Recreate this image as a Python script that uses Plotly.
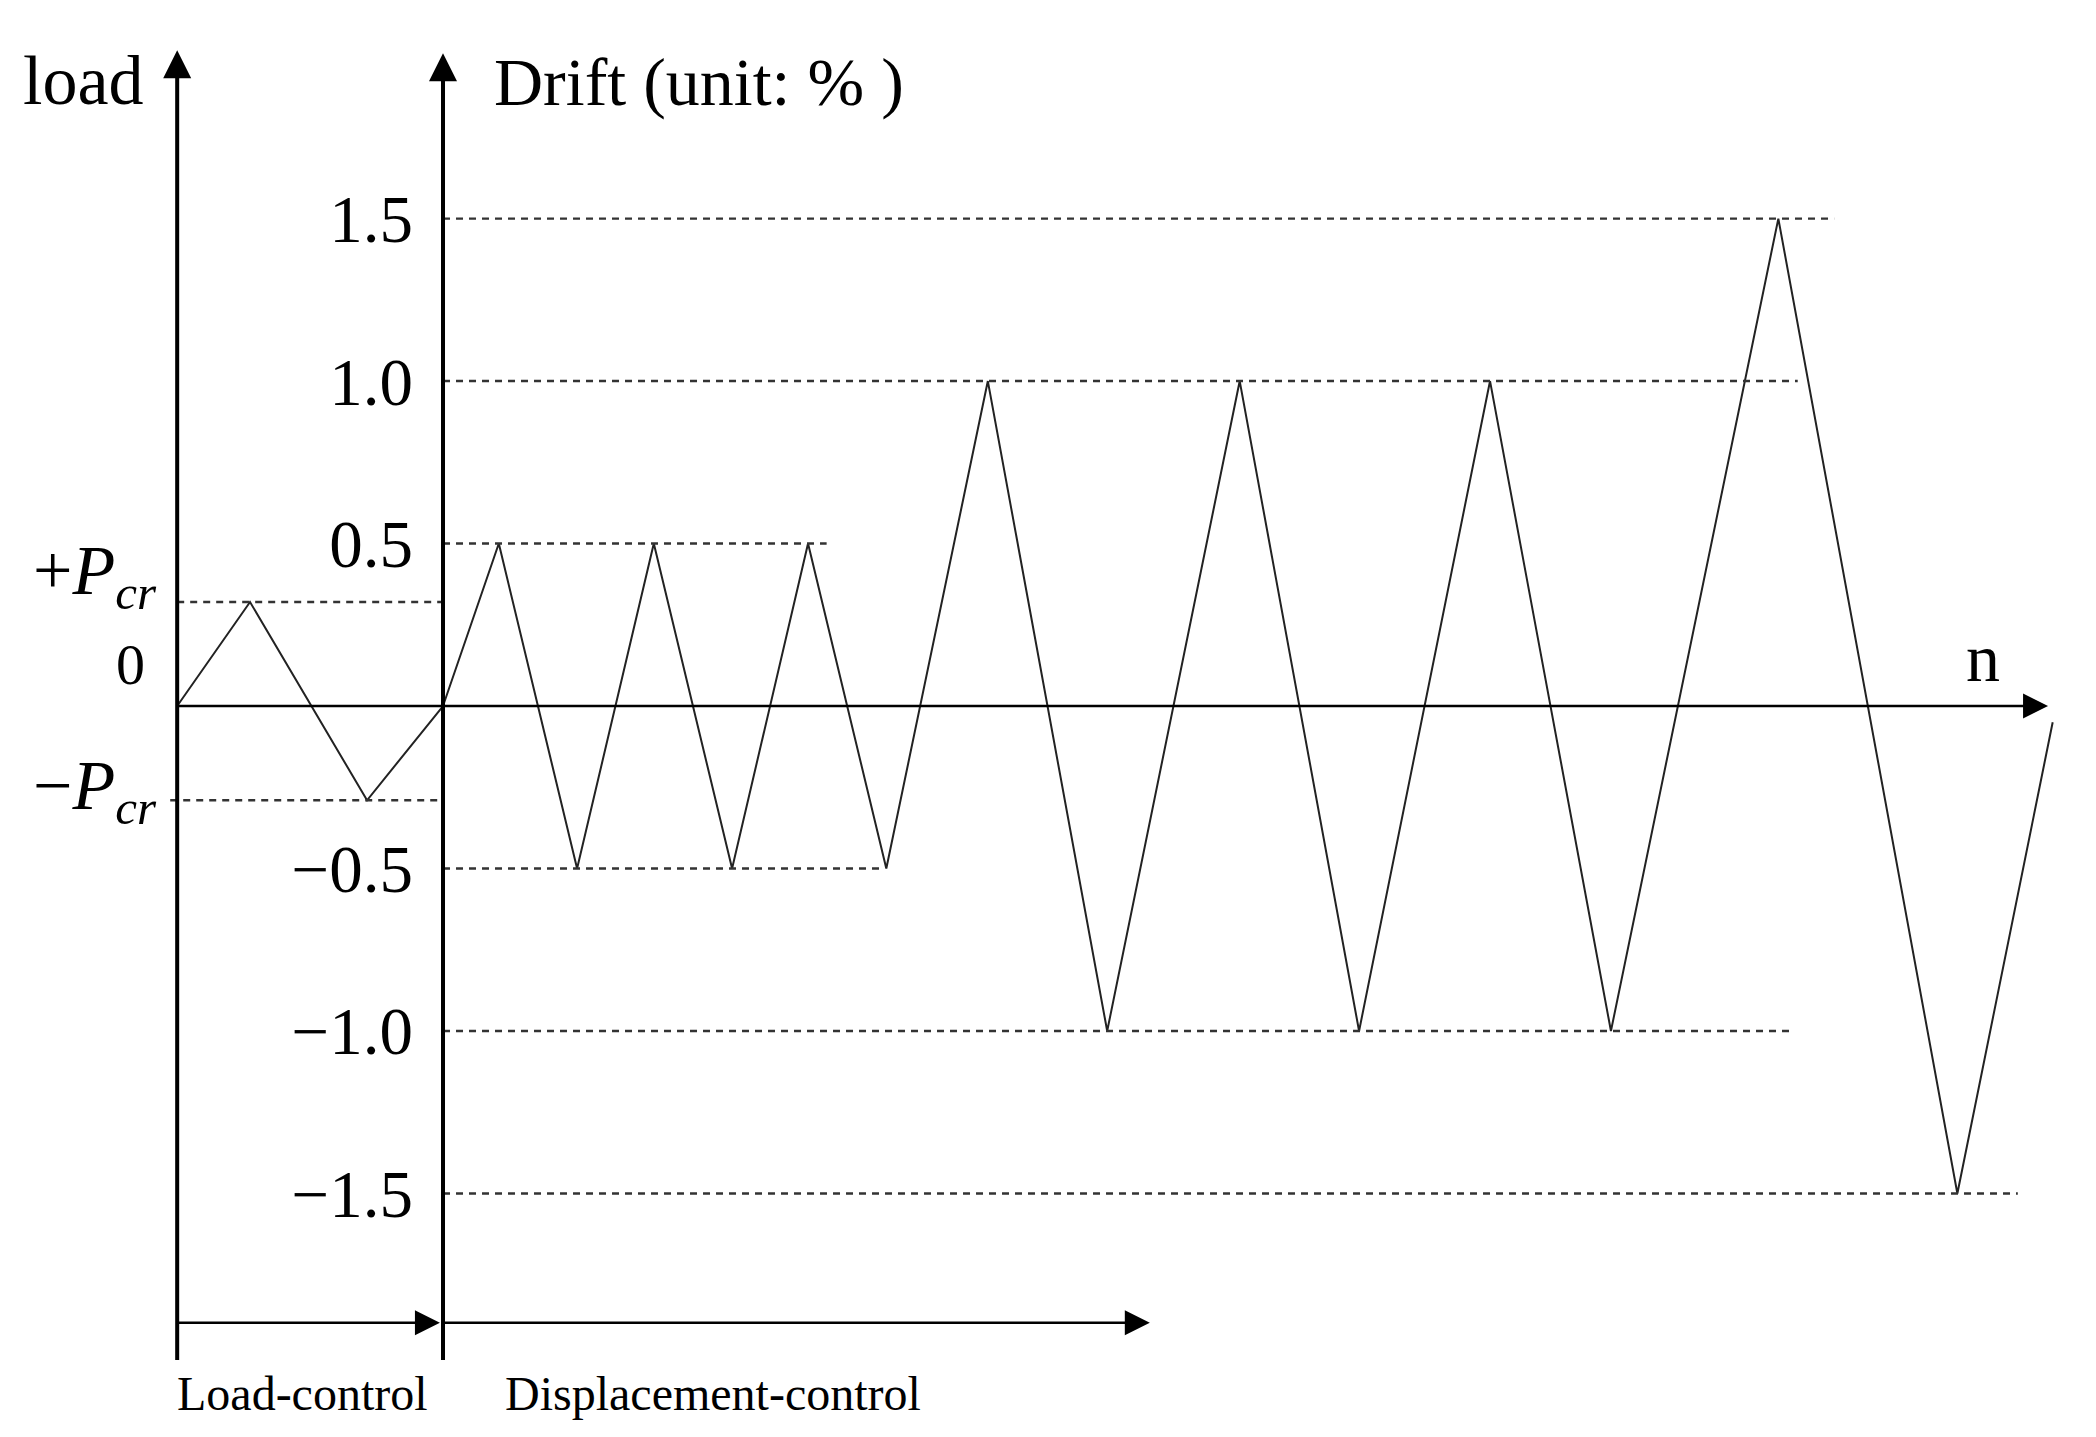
import plotly.graph_objects as go

# loading protocol
# x is in half-cycle units of the 0.5 % stage, drift axis at x = 0
load_x = [-3.43, -2.49, -0.98, 0.0]
load_y = [0.0, 0.32, -0.29, 0.0]          # +Pcr / -Pcr (drawn on the drift scale)

drift_x = [0.0, 0.72, 1.73, 2.72, 3.73, 4.71, 5.72, 7.03, 8.57,
           10.28, 11.82, 13.51, 15.07, 17.23, 19.54, 20.77]
drift_y = [0.0, 0.5, -0.5, 0.5, -0.5, 0.5, -0.5, 1.0, -1.0,
           1.0, -1.0, 1.0, -1.0, 1.5, -1.5, -0.05]

drift_levels = [1.5, 1.0, 0.5, -0.5, -1.0, -1.5]
drift_level_ends = [17.95, 17.48, 4.95, 5.70, 17.39, 20.32]
drift_ticks = ["1.5", "1.0", "0.5", "\u22120.5", "\u22121.0", "\u22121.5"]

FONT = "Liberation Serif"

fig = go.Figure()

fig.add_trace(go.Scatter(x=load_x, y=load_y, mode="lines",
                         line=dict(color="#222", width=2), showlegend=False))
fig.add_trace(go.Scatter(x=drift_x, y=drift_y, mode="lines",
                         line=dict(color="#222", width=2), showlegend=False))

# dashed guide lines
dash = dict(color="#333", width=2.4, dash="7px,6px")
for lev, end in zip(drift_levels, drift_level_ends):
    fig.add_shape(type="line", x0=0, x1=end, y0=lev, y1=lev,
                  xref="x", yref="y", line=dash)
fig.add_shape(type="line", x0=load_x[0], x1=0, y0=load_y[1], y1=load_y[1],
              xref="x", yref="y", line=dash)
fig.add_shape(type="line", x0=load_x[0] - 0.09, x1=0, y0=load_y[2], y1=load_y[2],
              xref="x", yref="y", line=dash)


def arrow(x0, y0, x1, y1, width, size):
    fig.add_annotation(x=x1, y=y1, ax=x0, ay=y0, xref="x", yref="y",
                       axref="x", ayref="y", text="", showarrow=True,
                       arrowhead=2, arrowsize=size, arrowwidth=width,
                       arrowcolor="black", standoff=0, startstandoff=0)


# axes
arrow(load_x[0], -2.017, load_x[0], 2.018, 4, 1.4)    # load axis
arrow(0, -2.017, 0, 2.009, 4, 1.4)                    # drift axis
arrow(load_x[0], 0, 20.71, 0, 2.5, 2)                 # n axis
arrow(load_x[0], -1.898, -0.04, -1.898, 2.5, 2)       # load-control stage
arrow(0, -1.898, 9.12, -1.898, 2.5, 2)                # displacement-control stage


def label(txt, x, y, size, xanchor="center"):
    fig.add_annotation(x=x, y=y, xref="x", yref="y", text=txt,
                       showarrow=False, xanchor=xanchor, yanchor="middle",
                       font=dict(family=FONT, size=size, color="black"))


label("load", -4.64, 1.926, 70)
label("Drift (unit: % )", 0.63, 1.92, 68, "left")
label("n", 19.87, 0.148, 68)
label("+<i>P</i><sub><i>cr</i></sub>", -5.31, 0.40, 70, "left")
label("0", -3.82, 0.129, 58, "right")
label("\u2212<i>P</i><sub><i>cr</i></sub>", -5.31, -0.262, 70, "left")
label("Load-control", -3.46, -2.114, 48, "left")
label("Displacement-control", 0.77, -2.114, 48, "left")

# page body has an 8px margin, so the plot origin sits at (8, 8)
fig.update_layout(
    width=2096, height=1437,
    margin=dict(l=0, r=0, t=0, b=0),
    paper_bgcolor="white", plot_bgcolor="white",
    xaxis=dict(range=[-5.613, 21.432], visible=False),
    yaxis=dict(range=[-2.274, 2.148], anchor="free", position=435 / 2096,
               tickvals=drift_levels, ticktext=drift_ticks, ticks="",
               showgrid=False, zeroline=False, showline=False,
               ticklabelstandoff=30,
               tickfont=dict(family=FONT, size=67, color="black")),
)

fig.write_html("out.html")
